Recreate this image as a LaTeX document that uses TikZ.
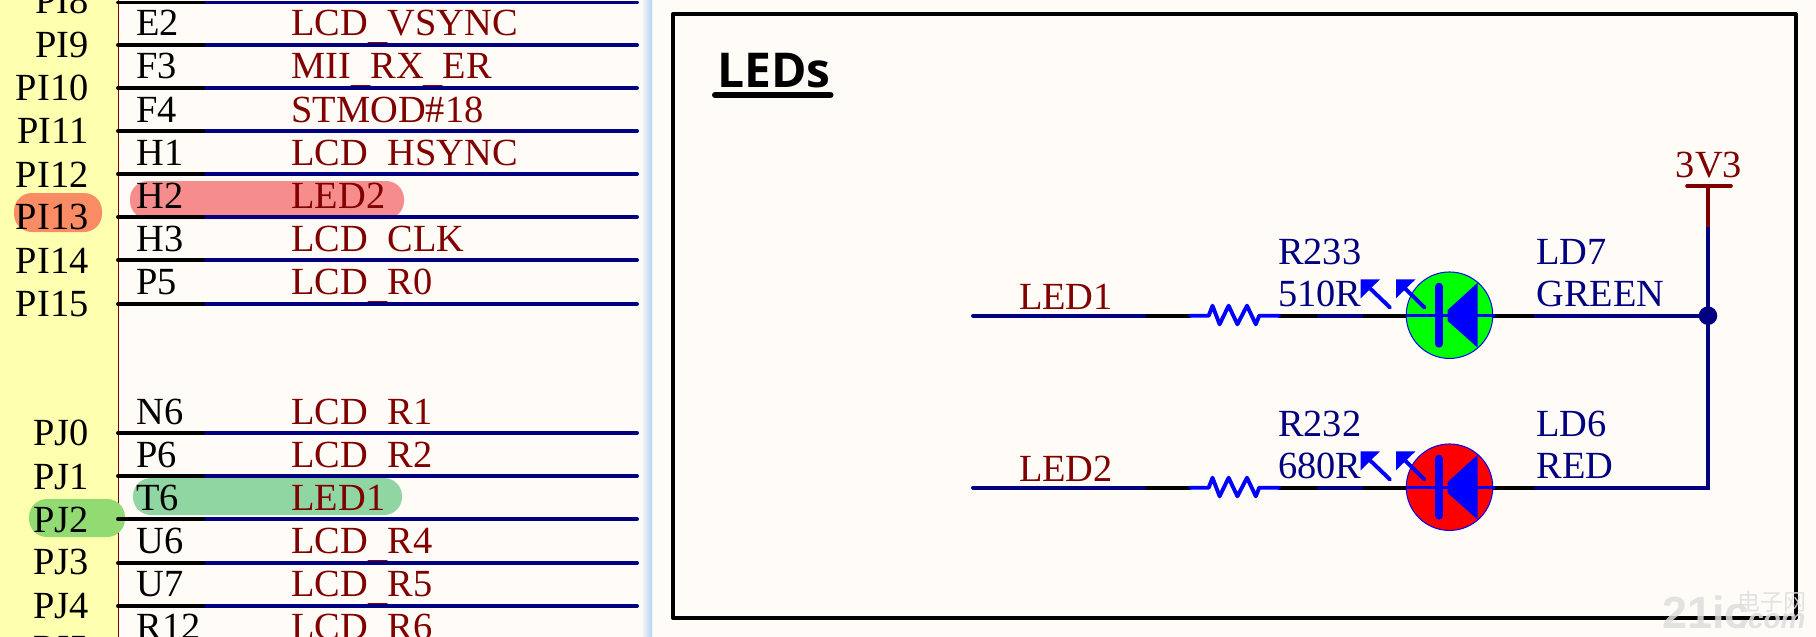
\documentclass[tikz,border=0pt]{standalone}
\usepackage{fontspec}
\setmainfont{Liberation Serif}
\newfontfamily\titlefont{Open Sans}
\newfontfamily\wmfont{Noto Sans CJK SC}
\newfontfamily\wmlat{Liberation Sans}
\usetikzlibrary{calc}
\definecolor{paper}{HTML}{FFFCF7}
\definecolor{panel}{HTML}{FFFFB0}
\definecolor{wirenavy}{HTML}{000080}
\definecolor{netred}{HTML}{800000}
\definecolor{partblue}{HTML}{0000FF}
\definecolor{fadeblue}{HTML}{B4D2F5}
\definecolor{wmgrey}{HTML}{DEDEDE}
\newcommand\us{\raisebox{-4.5pt}{\_}}
\tikzset{
  lab/.style={inner sep=0pt,outer sep=0pt,font=\fontsize{38.4}{38.4}\selectfont},
  pinlab/.style={lab,anchor=base west,text=black},
  netlab/.style={lab,anchor=base west,text=netred},
  portlab/.style={lab,anchor=base east,text=black},
  partlab/.style={lab,anchor=base west,text=wirenavy},
  wirebl/.style={draw=black,line width=3.9pt,line cap=round},
  wirenv/.style={draw=wirenavy,line width=3.9pt,line cap=round},
  wirecorner/.style={draw=wirenavy,line width=3.9pt,line cap=butt,line join=miter},
  partline/.style={draw=partblue,line width=3.9pt,line cap=round,line join=miter},
  pill/.style={rounded corners=18pt,draw=none},
  ledbody/.style={circle,draw=partblue,line width=1pt,minimum size=86.5pt,inner sep=0pt},
  wmark/.style={inner sep=0pt,anchor=base west,text=wmgrey,text opacity=.85}
}
\begin{document}
\begin{tikzpicture}[x=1pt,y=-1pt]
\clip (0,0) rectangle (1816,637);
\fill[paper] (0,0) rectangle (1816,637);
% yellow panel and edge
\fill[panel] (0,0) rectangle (118,637);
\draw[netred,line width=1pt] (118,0) -- (118,637);
% blue fade
\shade[left color=paper,right color=fadeblue] (641,0) rectangle (652,637);
% highlights
\fill[pill,fill={rgb,255:red,249;green,140;blue,100}] (14,193) rectangle (102,232);
\fill[pill,fill={rgb,255:red,247;green,140;blue,140}] (130,181) rectangle (404,219);
\fill[pill,fill={rgb,255:red,146;green,218;blue,114}] (29,499) rectangle (125,537);
\fill[pill,fill={rgb,255:red,143;green,214;blue,162}] (133,478) rectangle (402,515);
% port names
\foreach \nm/\t/\by in {p8/PI8/13,p9/PI9/57,p10/PI10/100,p11/PI11/143,p12/PI12/187,p13/PI13/229,p14/PI14/273,p15/PI15/316,j0/PJ0/445,j1/PJ1/489,j2/PJ2/532,j3/PJ3/574,j4/PJ4/618,j5/PJ5/661}
  \node[portlab] (port\nm) at (88.5,\by) {\t};
% pins and nets
\foreach \nm/\pin/\net/\by in {
  a/E2/LCD\us VSYNC/35, b/F3/MII\us RX\us ER/78, c/F4/STMOD\#18/122, d/H1/LCD\us HSYNC/165,
  e/H2/LED2/208, f/H3/LCD\us CLK/251, g/P5/LCD\us R0/294,
  h/N6/LCD\us R1/424, i/P6/LCD\us R2/467, j/T6/LED1/510, k/U6/LCD\us R4/553, l/U7/LCD\us R5/596, m/R12/LCD\us R6/639}{
  \node[pinlab] (pin\nm) at (136.5,\by) {\pin};
  \node[netlab] (net\nm) at (291.5,\by) {\net};
}
% bus rows
\foreach \nm/\wy in {a/2.5,b/45,c/88,d/131,e/174,f/217,g/260,h/304,i/433,j/476,k/519,l/563,m/606}{
  \coordinate (ws\nm) at (118,\wy);
  \coordinate (wm\nm) at (203,\wy);
  \coordinate (we\nm) at (637,\wy);
  \draw[wirenv] (wm\nm) -- (we\nm);
  \draw[wirebl] (ws\nm) -- (wm\nm);
}
% frame
\draw[black,line width=4pt,line join=round] (673,14) rectangle (1795.5,618);
% title
\node[inner sep=0pt,anchor=base west,font=\fontsize{48}{48}\selectfont\titlefont\bfseries] (title) at (717,87.3) {LEDs};
\coordinate (ula) at (715,95);
\coordinate (ulb) at (830.5,95);
\draw[black,line width=6pt,line cap=round] (ula) -- (ulb);
% LED rows
\foreach \n/\dy/\col/\rname/\rval/\ldn/\ldv/\net in {
  1/0/{rgb,255:red,0;green,255;blue,0}/R233/510R/LD7/GREEN/LED1,
  2/172/{rgb,255:red,255;green,0;blue,0}/R232/680R/LD6/RED/LED2}{
 \begin{scope}[shift={(0,\dy)}]
  \coordinate (s\n) at (973,315.7);
  \coordinate (m\n) at (1147,315.7);
  \coordinate (ra\n) at (1190,315.7);
  \coordinate (rb\n) at (1279,315.7);
  \coordinate (na\n) at (1318.5,315.7);
  \coordinate (nb\n) at (1364.5,315.7);
  \coordinate (ab\n) at (1534,315.7);
  \coordinate (j\n) at (1708,315.7);
  \coordinate (lc\n) at (1449.5,315.2);
  \coordinate (lw\n) at (1449.5,315.7);
  \draw[wirenv] (s\n) -- (m\n);
  \draw[wirebl] (m\n) -- (ra\n);
  \draw[wirebl] (rb\n) -- (na\n);
  \draw[wirenv] (na\n) -- (nb\n);
  \draw[wirebl] (nb\n) -- (lw\n);
  \draw[wirebl] (lw\n) -- (ab\n);
  \draw[partline,line join=round] (ra\n) -- (1208.7,315.7) -- (1212.5,305.7) -- (1219.6,324.3) -- (1228.6,305.7) -- (1237.4,324.3) -- (1247,305.7) -- (1255.8,324.3) -- (1259.2,315.7) -- (rb\n);
  \node[ledbody,fill=\col] (led\n) at (lc\n) {};
  \draw[partline,line width=3.4pt,line cap=butt] (1406,315.7) -- (1495,315.7);
  \draw[partline,line width=8pt] (1439,286.7) -- (1439,343.7);
  \fill[partblue] (1447.7,310) -- (1477.7,282.7) -- (1477.7,347.7) -- (1447.7,321) -- cycle;
  % light arrows
  \draw[partline] (1390,307.5) -- (1366,284.5);
  \fill[partblue] (1360.7,279.3) -- (1380,279.3) -- (1360.7,298.3) -- cycle;
  \draw[partline] (1424.5,307.5) -- (1401,284.5);
  \fill[partblue] (1396,279.3) -- (1415.5,279.3) -- (1396,298.3) -- cycle;
  % labels
  \node[partlab] (rn\n) at (1278,264) {\rname};
  \node[partlab] (rv\n) at (1278,306.7) {\rval};
  \node[partlab] (ln\n) at (1536.5,264) {\ldn};
  \node[partlab] (lv\n) at (1536.5,306.7) {\ldv};
  \node[netlab] (wl\n) at (1019,309) {\net};
 \end{scope}
}
% right bus
\draw[wirecorner] (ab1) -- (j1);
\draw[wirecorner] (ab2) -- (j2) -- (1708,227);
\coordinate (pt) at (1708,185.7);
\coordinate (ptb) at (1708,227);
\draw[draw=netred,line width=3.6pt] (ptb) -- (pt);
\coordinate (bl) at (1687,185.7);
\coordinate (br) at (1731,185.7);
\draw[draw=netred,line width=3.6pt,line cap=round] (bl) -- (br);
\node[lab,anchor=base,text=netred] (vcc) at (1709,177.5) {3V3};
\node[circle,fill=wirenavy,minimum size=18.5pt,inner sep=0pt] (dot) at (j1) {};
% watermark
\node[wmark,font=\fontsize{45}{45}\selectfont\wmlat\bfseries] (wm1) at (1662,628) {21ic};
\node[wmark,font=\fontsize{23}{23}\selectfont\wmfont] (wm2) at (1737,610) {电子网};
\node[wmark,font=\fontsize{28}{28}\selectfont\wmlat\bfseries\itshape] (wm3) at (1740,628) {.com};
\end{tikzpicture}
\end{document}
